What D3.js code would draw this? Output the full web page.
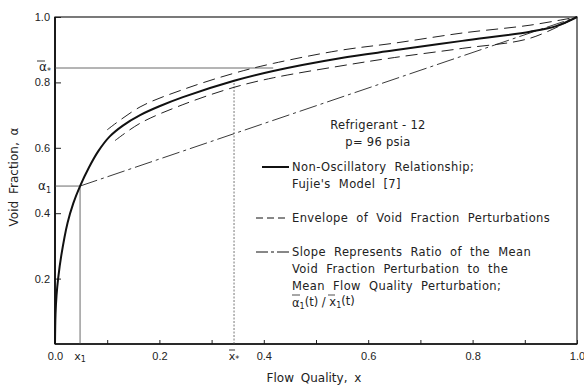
<!DOCTYPE html>
<html>
<head>
<meta charset="utf-8">
<script src="https://cdn.jsdelivr.net/npm/d3@7"></script>
<style>
  body { margin: 0; background: #fff; }
  svg { font-family: "DejaVu Sans", sans-serif; fill: #222; }
  .tick text { font-size: 11px; fill: #222; }
  .tick line { stroke: #222; stroke-width: 1; }
</style>
</head>
<body>
<div id="chart"></div>
<script>
// Fujie's model, non-oscillatory void fraction vs flow quality
const qualX    = [0, 0.001, 0.003, 0.006, 0.012, 0.024, 0.035, 0.048, 0.065, 0.083, 0.105, 0.13, 0.163, 0.2, 0.245, 0.343, 0.418, 0.546, 0.65, 0.78, 0.91, 0.96, 1.0];
const voidFrac = [0, 0.09, 0.15, 0.2, 0.27, 0.37, 0.43, 0.483, 0.54, 0.59, 0.635, 0.668, 0.70, 0.727, 0.755, 0.805, 0.835, 0.874, 0.898, 0.927, 0.955, 0.972, 1.0];

// envelope of void fraction perturbations
const envUpX   = [0.1, 0.163, 0.245, 0.343, 0.418, 0.546, 0.65, 0.78, 0.91, 1.0];
const envUpper = [0.655, 0.725, 0.778, 0.828, 0.858, 0.898, 0.92, 0.951, 0.975, 1.0];
const envLoX   = [0.115, 0.163, 0.245, 0.343, 0.418, 0.546, 0.65, 0.78, 0.91, 1.0];
const envLower = [0.622, 0.675, 0.732, 0.785, 0.814, 0.85, 0.876, 0.904, 0.935, 1.0];

// marked points
const xOne = 0.048, alphaOne = 0.483;
const xStar = 0.343, alphaStarCurve = 0.805;
const alphaStar = 0.844, alphaStarEnd = 0.418;

const xTickVals = [0, 0.1, 0.2, 0.3, 0.4, 0.5, 0.6, 0.7, 0.8, 0.9, 1.0];
const xTickLabels = ["0.0", "", "0.2", "", "0.4", "", "0.6", "", "0.8", "", "1.0"];
const yTickVals = [0.2, 0.4, 0.6, 0.8, 1.0];
const yTickLabels = ["0.2", "0.4", "0.6", "0.8", "1.0"];

const legendItems = [
  { dash: null, width: 2, lines: ["Non-Oscillatory  Relationship;", "Fujie's  Model  [7]"] },
  { dash: "7,4", width: 1, lines: ["Envelope  of  Void  Fraction  Perturbations"] },
  { dash: "12,3,3,3", width: 1, lines: ["Slope  Represents  Ratio  of  the  Mean", "Void  Fraction  Perturbation  to  the", "Mean  Flow  Quality  Perturbation;"] }
];

const W = 584, H = 387;
const margin = { top: 17, right: 7, bottom: 43, left: 55 };
const width = W - margin.left - margin.right;
const height = H - margin.top - margin.bottom;

const svg = d3.select('#chart').append('svg')
    .attr('width', W).attr('height', H);
const g = svg.append('g')
    .attr('transform', 'translate(' + margin.left + ',' + margin.top + ')');

const x = d3.scaleLinear().domain([0, 1]).range([0, width]);
const y = d3.scaleLinear().domain([0, 1]).range([height, 0]);

// axes with inward ticks
const xAxis = g.append('g')
    .attr('transform', 'translate(0,' + height + ')')
    .call(d3.axisBottom(x).tickValues(xTickVals).tickSize(-4).tickPadding(8)
        .tickFormat((d, i) => xTickLabels[i]));
xAxis.select('.domain').remove();

const yAxis = g.append('g')
    .call(d3.axisLeft(y).tickValues(yTickVals).tickSize(-6).tickPadding(5)
        .tickFormat((d, i) => yTickLabels[i]));
yAxis.select('.domain').remove();

// frame
g.append('rect')
    .attr('width', width).attr('height', height)
    .attr('fill', 'none').attr('stroke', '#222').attr('stroke-width', 1.2);
g.append('line').attr('x1', 0).attr('x2', 0).attr('y1', 0).attr('y2', height)
    .attr('stroke', '#111').attr('stroke-width', 1.8);
g.append('line').attr('x1', 0).attr('x2', width).attr('y1', height).attr('y2', height)
    .attr('stroke', '#111').attr('stroke-width', 1.6);

// reference lines
g.append('line')
    .attr('x1', 0).attr('x2', x(alphaStarEnd)).attr('y1', y(alphaStar)).attr('y2', y(alphaStar))
    .attr('stroke', '#444').attr('stroke-width', 0.8);
g.append('line')
    .attr('x1', 0).attr('x2', x(xOne)).attr('y1', y(alphaOne)).attr('y2', y(alphaOne))
    .attr('stroke', '#444').attr('stroke-width', 0.8);
g.append('line')
    .attr('x1', x(xOne)).attr('x2', x(xOne)).attr('y1', height).attr('y2', y(alphaOne))
    .attr('stroke', '#444').attr('stroke-width', 0.8);
g.append('line')
    .attr('x1', x(xStar)).attr('x2', x(xStar)).attr('y1', height).attr('y2', y(alphaStarCurve))
    .attr('stroke', '#555').attr('stroke-width', 0.8).attr('stroke-dasharray', '2,1.5');

// chord: slope = mean void fraction perturbation / mean quality perturbation
g.append('line')
    .attr('x1', x(xOne)).attr('y1', y(alphaOne)).attr('x2', x(1)).attr('y2', y(1))
    .attr('stroke', '#222').attr('stroke-width', 0.9).attr('stroke-dasharray', '18,4,3,4');

const line = d3.line()
    .x(d => x(d[0]))
    .y(d => y(d[1]))
    .curve(d3.curveCatmullRom.alpha(0.5));

g.append('path')
    .datum(envUpX.map((v, i) => [v, envUpper[i]]))
    .attr('d', line).attr('fill', 'none')
    .attr('stroke', '#222').attr('stroke-width', 1).attr('stroke-dasharray', '12,6');
g.append('path')
    .datum(envLoX.map((v, i) => [v, envLower[i]]))
    .attr('d', line).attr('fill', 'none')
    .attr('stroke', '#222').attr('stroke-width', 1).attr('stroke-dasharray', '12,6');

g.append('path')
    .datum(qualX.map((v, i) => [v, voidFrac[i]]))
    .attr('d', line).attr('fill', 'none')
    .attr('stroke', '#111').attr('stroke-width', 2);

// special axis labels
const greek = (px, py, sub, bar) => {
    const t = svg.append('text').attr('x', px).attr('y', py)
        .attr('font-size', 12).attr('text-anchor', 'end').attr('dy', '0.35em');
    t.append('tspan').text('α');
    t.append('tspan').text(sub).attr('font-size', 8).attr('dy', '0.35em');
    if (bar) {
        svg.append('line').attr('x1', px - 14).attr('x2', px - 6)
            .attr('y1', py - 6).attr('y2', py - 6).attr('stroke', '#222').attr('stroke-width', 0.9);
    }
};
greek(margin.left - 4, margin.top + y(alphaStar) - 1, '*', true);
greek(margin.left - 4, margin.top + y(alphaOne), '1', false);

const xLbl = (xv, sub, bar) => {
    const px = margin.left + x(xv);
    const t = svg.append('text').attr('x', px).attr('y', margin.top + height + 16)
        .attr('font-size', 11).attr('text-anchor', 'middle');
    t.append('tspan').text('x');
    t.append('tspan').text(sub).attr('font-size', 8).attr('dy', '0.3em');
    if (bar) {
        svg.append('line').attr('x1', px - 5).attr('x2', px + 1)
            .attr('y1', margin.top + height + 6).attr('y2', margin.top + height + 6)
            .attr('stroke', '#222').attr('stroke-width', 0.9);
    }
};
xLbl(xOne, '1', false);
xLbl(xStar, '*', true);

// axis titles
svg.append('text')
    .attr('x', 314).attr('y', 382).attr('text-anchor', 'middle')
    .attr('font-size', 12).attr('word-spacing', 3)
    .text('Flow Quality, x');
svg.append('text')
    .attr('transform', 'translate(18,177) rotate(-90)')
    .attr('text-anchor', 'middle').attr('font-size', 12).attr('word-spacing', 3)
    .text('Void Fraction, α');

// legend
svg.append('text').attr('x', 378).attr('y', 129).attr('text-anchor', 'middle')
    .attr('font-size', 11.5).attr('letter-spacing', 0.3).text('Refrigerant - 12');
svg.append('text').attr('x', 378).attr('y', 146).attr('text-anchor', 'middle')
    .attr('font-size', 11.5).attr('letter-spacing', 0.3).text('p= 96 psia');

const legendY = [167, 218, 252];
legendItems.forEach((item, k) => {
    const ly = legendY[k];
    svg.append('line')
        .attr('x1', item.dash ? 256 : 262).attr('x2', 289).attr('y1', ly).attr('y2', ly)
        .attr('stroke', '#111').attr('stroke-width', item.width)
        .attr('stroke-dasharray', item.dash);
    item.lines.forEach((txt, j) => {
        svg.append('text').attr('x', 292).attr('y', ly + j * 17).attr('dy', '0.35em')
            .attr('font-size', 11.5).attr('letter-spacing', 0.4)
            .attr('xml:space', 'preserve').style('white-space', 'pre')
            .text(txt);
    });
});

// ratio label: alpha1(t) / x1(t)
const ratio = svg.append('text').attr('x', 292).attr('y', 303).attr('dy', '0.35em').attr('font-size', 11.5);
ratio.append('tspan').text('α');
ratio.append('tspan').text('1').attr('font-size', 8).attr('dy', '0.3em');
ratio.append('tspan').text('(t) / x').attr('dy', '-0.3em');
ratio.append('tspan').text('1').attr('font-size', 8).attr('dy', '0.3em');
ratio.append('tspan').text('(t)').attr('dy', '-0.3em');
svg.append('line').attr('x1', 292).attr('x2', 300).attr('y1', 295).attr('y2', 295)
    .attr('stroke', '#222').attr('stroke-width', 0.8);
svg.append('line').attr('x1', 328).attr('x2', 335).attr('y1', 295).attr('y2', 295)
    .attr('stroke', '#222').attr('stroke-width', 0.8);
</script>
</body>
</html>
